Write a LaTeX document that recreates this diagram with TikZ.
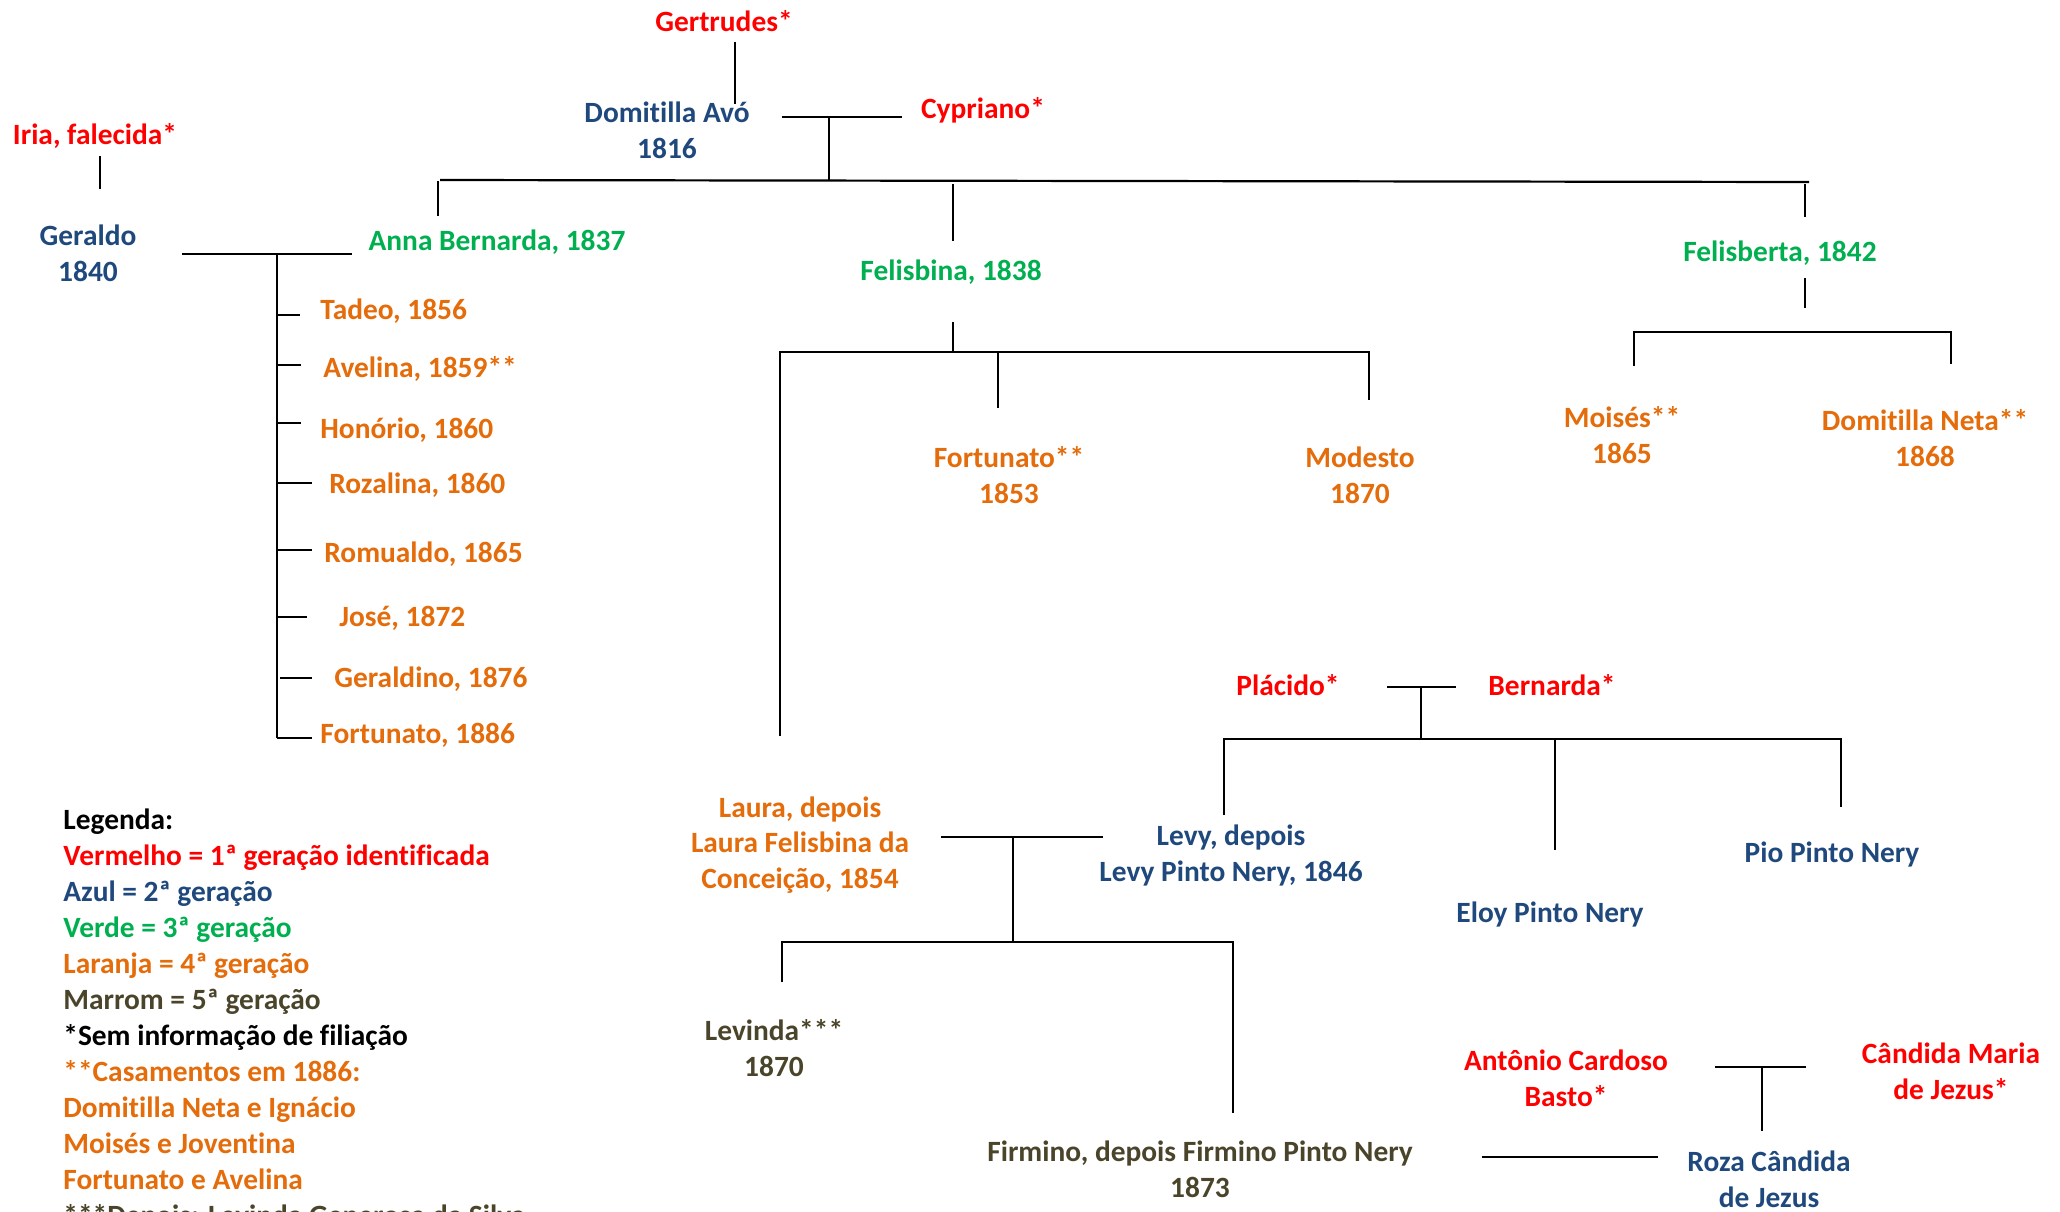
\documentclass[tikz,border=0pt]{standalone}
\usepackage{fontspec}
\setmainfont{Carlito}[Ligatures=NoCommon]
\definecolor{cred}{HTML}{FF0000}
\definecolor{cblue}{HTML}{1F497D}
\definecolor{cgreen}{HTML}{00B050}
\definecolor{corange}{HTML}{E46C0A}
\definecolor{cbrown}{HTML}{4A452A}
\begin{document}
\begin{tikzpicture}[x=0.5pt,y=-0.5pt,
  lbl/.style={font=\fontsize{14.7}{17.75}\selectfont\bfseries, inner sep=0pt, anchor=base, align=center},
  kid/.style={lbl, anchor=base west, align=left, text=corange},
  leg/.style={lbl, anchor=base west, align=left},
  ln/.style={line width=1.1pt, draw=black}]
\useasboundingbox (0,0) rectangle (2060,1211);
\fill[white] (0,0) rectangle (2060,1211);
\begin{scope}
\clip (0,0) rectangle (2060,1211);

% ---------- people (multi-line nodes: base = last line) ----------
\node[lbl,text=cred] (gert) at (724,31) {Gertrudes*};
\node[lbl,text=cblue] (domav) at (667,158) {Domitilla Avó\\1816};
\node[lbl,text=cred] (cyp) at (983,118) {Cypriano*};
\node[lbl,text=cred] (iria) at (95,144) {Iria, falecida*};
\node[lbl,text=cblue] (ger) at (88,281) {Geraldo\\1840};
\node[lbl,text=cgreen] (anna) at (497,250) {Anna Bernarda, 1837};
\node[lbl,text=cgreen] (felisbina) at (951,280) {Felisbina, 1838};
\node[lbl,text=cgreen] (felisberta) at (1780,261) {Felisberta, 1842};

\node[kid] (k1) at (320,319) {Tadeo, 1856};
\node[kid] (k2) at (323,377) {Avelina, 1859**};
\node[kid] (k3) at (320,438) {Honório, 1860};
\node[kid] (k4) at (329,493) {Rozalina, 1860};
\node[kid] (k5) at (324,562) {Romualdo, 1865};
\node[kid] (k6) at (339,626) {José, 1872};
\node[kid] (k7) at (334,687) {Geraldino, 1876};
\node[kid] (k8) at (320,743) {Fortunato, 1886};

\node[lbl,text=corange] (fort) at (1009,503) {Fortunato**\\1853};
\node[lbl,text=corange] (mod) at (1360,503) {Modesto\\1870};
\node[lbl,text=corange] (moi) at (1622,463) {Moisés**\\1865};
\node[lbl,text=corange] (dneta) at (1925,466) {Domitilla Neta**\\1868};

\node[lbl,text=cred] (plac) at (1288,695) {Plácido*};
\node[lbl,text=cred] (bern) at (1552,695) {Bernarda*};
\node[lbl,text=corange] (laura) at (800,888) {Laura, depois\\Laura Felisbina da\\Conceição, 1854};
\node[lbl,text=cblue] (levy) at (1231,881) {Levy, depois\\Levy Pinto Nery, 1846};
\node[lbl,text=cblue] (eloy) at (1550,922) {Eloy Pinto Nery};
\node[lbl,text=cblue] (pio) at (1832,862) {Pio Pinto Nery};
\node[lbl,text=cbrown] (levinda) at (774,1076) {Levinda***\\1870};
\node[lbl,text=cbrown] (firm) at (1200,1197) {Firmino, depois Firmino Pinto Nery\\1873};
\node[lbl,text=cred] (ant) at (1566,1106) {Antônio Cardoso\\Basto*};
\node[lbl,text=cred] (cand) at (1951,1099) {Cândida Maria\\de Jezus*};
\node[lbl,text=cblue] (roza) at (1769,1207) {Roza Cândida\\de Jezus};

% ---------- legend ----------
\node[leg,text=black] (lg0) at (63,829) {Legenda:};
\node[leg,text=cred] (lg1) at (63,865) {Vermelho = 1ª geração identificada};
\node[leg,text=cblue] (lg2) at (63,901) {Azul = 2ª geração};
\node[leg,text=cgreen] (lg3) at (63,937) {Verde = 3ª geração};
\node[leg,text=corange] (lg4) at (63,973) {Laranja = 4ª geração};
\node[leg,text=cbrown] (lg5) at (63,1009) {Marrom = 5ª geração};
\node[leg,text=black] (lg6) at (63,1045) {*Sem informação de filiação};
\node[leg,text=corange] (lg7) at (63,1081) {**Casamentos em 1886:};
\node[leg,text=corange] (lg8) at (63,1117) {Domitilla Neta e Ignácio};
\node[leg,text=corange] (lg9) at (63,1153) {Moisés e Joventina};
\node[leg,text=corange] (lg10) at (63,1189) {Fortunato e Avelina};
\node[leg,text=cbrown] (lg11) at (63,1225) {***Depois: Levinda Generosa da Silva};

% ---------- junction coordinates ----------
\coordinate (gertA) at (735,42);   \coordinate (gertB) at (735,104);
\coordinate (c1L) at (782,117);    \coordinate (c1R) at (902,117);
\coordinate (c1M) at (829,117);    \coordinate (mainM) at (829,180);
\coordinate (mainL) at (440,180);  \coordinate (mainR) at (1809,182);
\coordinate (annaT) at (438,181);  \coordinate (annaB) at (438,216);
\coordinate (iriaA) at (100,156);  \coordinate (iriaB) at (100,189);
\coordinate (c2L) at (182,254);    \coordinate (c2R) at (352,254);
\coordinate (trT) at (277,254);    \coordinate (trB) at (277,738);
\coordinate (fbT) at (953,184);    \coordinate (fbB) at (953,241);
\coordinate (fbD1) at (953,322);   \coordinate (fbD2) at (953,352);
\coordinate (fbL) at (780,352);    \coordinate (fbR) at (1369,352);
\coordinate (lauT) at (780,736);
\coordinate (forT) at (998,352);   \coordinate (forB) at (998,408);
\coordinate (modB) at (1369,400);
\coordinate (ftT) at (1805,184);   \coordinate (ftB) at (1805,217);
\coordinate (ftD1) at (1805,278);  \coordinate (ftD2) at (1805,308);
\coordinate (ftL) at (1634,332);   \coordinate (ftR) at (1951,332);
\coordinate (moiB) at (1634,366);  \coordinate (dnB) at (1951,364);
\coordinate (c3L) at (1387,687);   \coordinate (c3R) at (1456,687);
\coordinate (c3M) at (1421,687);   \coordinate (c3D) at (1421,739);
\coordinate (pbL) at (1224,739);   \coordinate (pbR) at (1841,739);
\coordinate (levB) at (1224,815);
\coordinate (eloT) at (1555,739);  \coordinate (eloB) at (1555,850);
\coordinate (pioB) at (1841,807);
\coordinate (c4L) at (941,837);    \coordinate (c4R) at (1103,837);
\coordinate (c4M) at (1013,837);   \coordinate (c4D) at (1013,942);
\coordinate (lvL) at (782,942);    \coordinate (lvR) at (1233,942);
\coordinate (lvdB) at (782,982);   \coordinate (firB) at (1233,1113);
\coordinate (c5L) at (1715,1067);  \coordinate (c5R) at (1806,1067);
\coordinate (c5M) at (1762,1067);  \coordinate (c5D) at (1762,1131);
\coordinate (c6L) at (1482,1157);  \coordinate (c6R) at (1658,1157);

% ---------- connectors ----------
\draw[ln] (gertA) -- (gertB);
\draw[ln] (c1L) -- (c1R);
\draw[ln] (c1M) -- (mainM);
\draw[ln] (mainL) -- (mainR);
\draw[ln] (annaT) -- (annaB);
\draw[ln] (iriaA) -- (iriaB);
\draw[ln] (c2L) -- (c2R);
\draw[ln] (trT) -- (trB);
\foreach \yy/\xx in {315/300,365/301,423/301,483/312,550/312,617/307,738/312}
  \draw[ln] (277,\yy) -- (\xx,\yy);
\draw[ln] (280,678) -- (312,678);
\draw[ln] (fbT) -- (fbB);
\draw[ln] (fbD1) -- (fbD2);
\draw[ln] (lauT) -- (fbL) -- (fbR) -- (modB);
\draw[ln] (forT) -- (forB);
\draw[ln] (ftT) -- (ftB);
\draw[ln] (ftD1) -- (ftD2);
\draw[ln] (moiB) -- (ftL) -- (ftR) -- (dnB);
\draw[ln] (c3L) -- (c3R);
\draw[ln] (c3M) -- (c3D);
\draw[ln] (levB) -- (pbL) -- (pbR) -- (pioB);
\draw[ln] (eloT) -- (eloB);
\draw[ln] (c4L) -- (c4R);
\draw[ln] (c4M) -- (c4D);
\draw[ln] (lvdB) -- (lvL) -- (lvR) -- (firB);
\draw[ln] (c5L) -- (c5R);
\draw[ln] (c5M) -- (c5D);
\draw[ln] (c6L) -- (c6R);
\end{scope}
\end{tikzpicture}
\end{document}
